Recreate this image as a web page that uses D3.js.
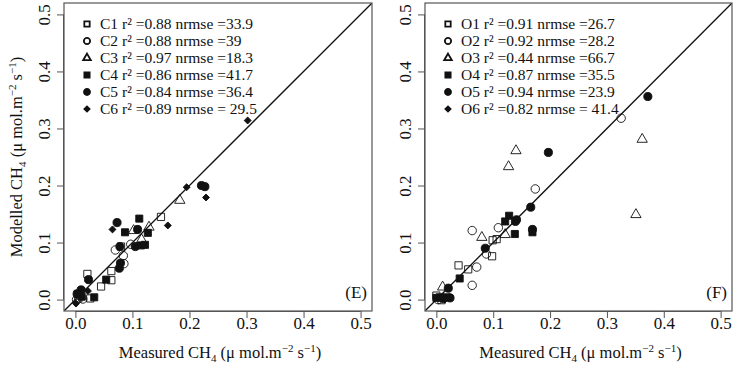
<!DOCTYPE html>
<html>
<head>
<meta charset="utf-8">
<script src="https://cdn.jsdelivr.net/npm/d3@7"></script>
<style>
  body { margin: 0; background: #fff; }
  text { font-family: "Liberation Serif", "Times New Roman", serif; fill: #111; }
</style>
</head>
<body>
<div id="chart"></div>
<script>
// ticks shared by both panels
var ticks = [0, 0.1, 0.2, 0.3, 0.4, 0.5];
var tickLabels = ["0.0", "0.1", "0.2", "0.3", "0.4", "0.5"];

// panel E : [measured, modelled]
var C1 = [[0.150, 0.145], [0.021, 0.045], [0.063, 0.034], [0.063, 0.050], [0.045, 0.023], [0.080, 0.093], [0.026, 0.002], [0.005, 0.002]];
var C2 = [[0.070, 0.087], [0.084, 0.077], [0.085, 0.063], [0.097, 0.097], [0.002, 0.000], [0.013, 0.001]];
var C3 = [[0.183, 0.174], [0.129, 0.127], [0.102, 0.121], [0.116, 0.105], [0.010, 0.006]];
var C4 = [[0.112, 0.142], [0.087, 0.118], [0.127, 0.117], [0.115, 0.095], [0.122, 0.096], [0.054, 0.035], [0.033, 0.004], [0.004, 0.010], [0.011, 0.005]];
var C5 = [[0.221, 0.200], [0.227, 0.198], [0.073, 0.135], [0.109, 0.123], [0.078, 0.093], [0.105, 0.093], [0.079, 0.064], [0.077, 0.055], [0.023, 0.035], [0.010, 0.017], [0.003, 0.010]];
var C6 = [[0.302, 0.314], [0.195, 0.197], [0.229, 0.179], [0.162, 0.130], [0.065, 0.123], [0.001, -0.007], [0.022, 0.015]];

// panel F
var O1 = [[0.039, 0.060], [0.098, 0.076], [0.106, 0.106], [0.099, 0.104], [0.056, 0.053], [0.000, 0.007], [0.009, -0.001]];
var O2 = [[0.325, 0.318], [0.174, 0.194], [0.063, 0.121], [0.109, 0.126], [0.071, 0.057], [0.063, 0.025], [0.088, 0.080], [0.003, 0.000]];
var O3 = [[0.140, 0.261], [0.127, 0.233], [0.362, 0.281], [0.351, 0.149], [0.080, 0.109], [0.121, 0.114], [0.011, 0.022]];
var O4 = [[0.128, 0.147], [0.121, 0.137], [0.138, 0.115], [0.169, 0.118], [0.041, 0.037], [0.006, 0.004], [0.000, 0.003], [0.018, 0.004]];
var O5 = [[0.372, 0.356], [0.197, 0.258], [0.166, 0.162], [0.169, 0.123], [0.141, 0.140], [0.139, 0.137], [0.086, 0.090], [0.021, 0.020], [0.024, 0.003], [0.012, 0.002]];
var O6 = [[0.008, 0.002], [0.015, 0.000]];

var legendE = ["C1 r\u00b2 =0.88 nrmse =33.9", "C2 r\u00b2 =0.88 nrmse =39", "C3 r\u00b2 =0.97 nrmse =18.3",
               "C4 r\u00b2 =0.86 nrmse =41.7", "C5 r\u00b2 =0.84 nrmse =36.4", "C6 r\u00b2 =0.89 nrmse = 29.5"];
var legendF = ["O1 r\u00b2 =0.91 nrmse =26.7", "O2 r\u00b2 =0.92 nrmse =28.2", "O3 r\u00b2 =0.44 nrmse =66.7",
               "O4 r\u00b2 =0.87 nrmse =35.5", "O5 r\u00b2 =0.94 nrmse =23.9", "O6 r\u00b2 =0.82 nrmse = 41.4"];

var svg = d3.select("#chart").append("svg")
    .attr("width", 737)
    .attr("height", 365);

// pch 0,1,2,15,16,18
var shapes = [
  {type: d3.symbolSquare, size: 52, fill: "none"},
  {type: d3.symbolCircle, size: 56, fill: "none"},
  {type: d3.symbolTriangle, size: 46, fill: "none"},
  {type: d3.symbolSquare, size: 50, fill: "#111"},
  {type: d3.symbolCircle, size: 52, fill: "#111"},
  {type: d3.symbolSquare, size: 24, fill: "#111", rot: 45}
];

function drawPanel(left, right, series, legend, tag, yTitle) {
  var x = d3.scaleLinear().domain([-0.02, 0.52]).range([left, right]);
  var y = d3.scaleLinear().domain([-0.02, 0.52]).range([311, 3]);
  var g = svg.append("g");

  g.append("defs").append("clipPath").attr("id", "clip" + tag)
    .append("rect").attr("x", left).attr("y", 3)
    .attr("width", right - left).attr("height", 308);

  // 1:1 line
  g.append("line")
    .attr("clip-path", "url(#clip" + tag + ")")
    .attr("x1", x(-0.02)).attr("y1", y(-0.02))
    .attr("x2", x(0.52)).attr("y2", y(0.52))
    .attr("stroke", "#111").attr("stroke-width", 1.3);

  // points
  series.forEach(function(pts, i) {
    var s = shapes[i];
    g.selectAll(null).data(pts).enter().append("path")
      .attr("d", d3.symbol().type(s.type).size(s.size))
      .attr("transform", function(d) {
        return "translate(" + x(d[0]) + "," + y(d[1]) + ")" + (s.rot ? " rotate(45)" : "");
      })
      .attr("fill", s.fill == "none" ? "#fff" : s.fill)
      .attr("fill-opacity", s.fill == "none" ? 0 : 1)
      .attr("stroke", "#111")
      .attr("stroke-width", 0.9);
  });

  // box
  g.append("rect")
    .attr("x", left).attr("y", 3)
    .attr("width", right - left).attr("height", 308)
    .attr("fill", "none").attr("stroke", "#555").attr("stroke-width", 1.2);

  // x axis
  var xa = g.append("g").attr("transform", "translate(0,311)")
    .call(d3.axisBottom(x).tickValues(ticks).tickSize(7).tickFormat(function(d, i) { return tickLabels[i]; }));
  xa.select(".domain").attr("stroke", "#555").attr("d", "M" + x(0) + ",0.5H" + x(0.5));
  xa.selectAll(".tick line").attr("stroke", "#555");
  xa.selectAll(".tick text").attr("dy", null).attr("y", 18)
    .style("font-family", "Liberation Serif").style("font-size", "17px").attr("fill", "#111");

  // y axis
  var ya = g.append("g").attr("transform", "translate(" + left + ",0)")
    .call(d3.axisLeft(y).tickValues(ticks).tickSize(7).tickFormat(function(d, i) { return tickLabels[i]; }));
  ya.select(".domain").attr("stroke", "#555").attr("d", "M-0.5," + y(0) + "V" + y(0.5));
  ya.selectAll(".tick line").attr("stroke", "#555");
  ya.selectAll(".tick text")
    .attr("x", null).attr("dy", null)
    .attr("text-anchor", "middle")
    .attr("transform", "translate(-14,0) rotate(-90)")
    .style("font-family", "Liberation Serif").style("font-size", "17px").attr("fill", "#111");

  // x title
  var xt = g.append("text")
    .attr("x", (left + right) / 2 + 2).attr("y", 358)
    .attr("text-anchor", "middle").style("font-size", "16.5px");
  xt.append("tspan").text("Measured CH");
  xt.append("tspan").text("4").attr("dy", 4).style("font-size", "11px");
  xt.append("tspan").text(" (\u03bc mol.m").attr("dy", -4);
  xt.append("tspan").text("\u22122").attr("dy", -6).style("font-size", "11px");
  xt.append("tspan").text(" s").attr("dy", 6);
  xt.append("tspan").text("\u22121").attr("dy", -6).style("font-size", "11px");
  xt.append("tspan").text(")").attr("dy", 6);

  if (yTitle) {
    var yt = g.append("text")
      .attr("transform", "translate(22,157) rotate(-90)")
      .attr("text-anchor", "middle").style("font-size", "16.5px");
    yt.append("tspan").text("Modelled CH");
    yt.append("tspan").text("4").attr("dy", 4).style("font-size", "11px");
    yt.append("tspan").text(" (\u03bc mol.m").attr("dy", -4);
    yt.append("tspan").text("\u22122").attr("dy", -6).style("font-size", "11px");
    yt.append("tspan").text(" s").attr("dy", 6);
    yt.append("tspan").text("\u22121").attr("dy", -6).style("font-size", "11px");
    yt.append("tspan").text(")").attr("dy", 6);
  }

  // legend
  legend.forEach(function(l, i) {
    var ly = 24 + i * 17;
    var s = shapes[i];
    g.append("path")
      .attr("d", d3.symbol().type(s.type).size(s.size * 0.55))
      .attr("transform", "translate(" + (left + 23) + "," + ly + ")" + (s.rot ? " rotate(45)" : ""))
      .attr("fill", s.fill == "none" ? "none" : s.fill)
      .attr("stroke", "#111").attr("stroke-width", 1.8);
    g.append("text")
      .attr("x", left + 36).attr("y", ly + 5)
      .style("font-size", "15.5px")
      .text(l);
  });

  g.append("text")
    .attr("x", right - 5).attr("y", 298)
    .attr("text-anchor", "end").style("font-size", "17px")
    .text("(" + tag + ")");
}

drawPanel(64, 372, [C1, C2, C3, C4, C5, C6], legendE, "E", true);
drawPanel(425, 732, [O1, O2, O3, O4, O5, O6], legendF, "F", false);
</script>
</body>
</html>
